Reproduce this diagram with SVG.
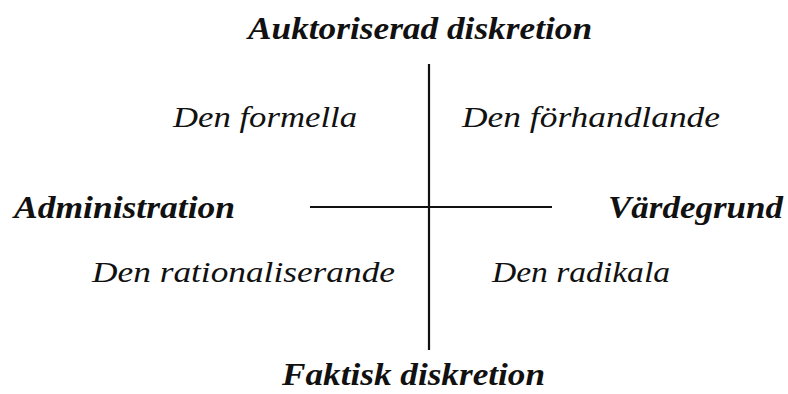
<svg xmlns="http://www.w3.org/2000/svg" width="788" height="394" viewBox="0 0 788 394">
<style>
.ax{font-family:"Liberation Serif","Times New Roman",serif;font-weight:bold;font-style:italic;font-size:32px;fill:#111}
.q{font-family:"Liberation Serif","Times New Roman",serif;font-style:italic;font-size:29px;fill:#111}
.ln{stroke:#111;stroke-width:2.2;fill:none}
</style>
<rect width="788" height="394" fill="#fff"/>
<g id="connectors">
<line class="ln" x1="429" y1="64" x2="429" y2="350"/>
<line class="ln" x1="310" y1="207" x2="552" y2="207"/>
</g>
<g id="top"><text class="ax" x="248" y="39" textLength="344" lengthAdjust="spacingAndGlyphs">Auktoriserad diskretion</text></g>
<g id="bottom"><text class="ax" x="282" y="385" textLength="263" lengthAdjust="spacingAndGlyphs">Faktisk diskretion</text></g>
<g id="left"><text class="ax" x="14" y="218" textLength="221" lengthAdjust="spacingAndGlyphs">Administration</text></g>
<g id="right"><text class="ax" x="608" y="218" textLength="175" lengthAdjust="spacingAndGlyphs">Värdegrund</text></g>
<g id="q1"><text class="q" x="173" y="127" textLength="184" lengthAdjust="spacingAndGlyphs">Den formella</text></g>
<g id="q2"><text class="q" x="462" y="127" textLength="258" lengthAdjust="spacingAndGlyphs">Den förhandlande</text></g>
<g id="q3"><text class="q" x="92" y="282" textLength="303" lengthAdjust="spacingAndGlyphs">Den rationaliserande</text></g>
<g id="q4"><text class="q" x="492" y="282" textLength="178" lengthAdjust="spacingAndGlyphs">Den radikala</text></g>
</svg>
